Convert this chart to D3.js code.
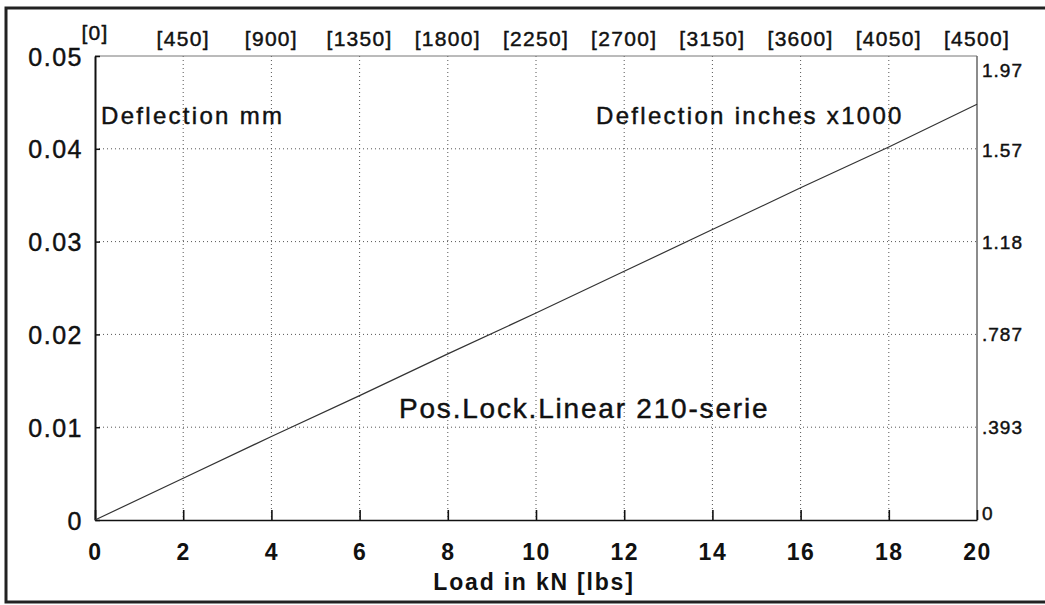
<!DOCTYPE html>
<html>
<head>
<meta charset="utf-8">
<script src="https://cdn.jsdelivr.net/npm/d3@7"></script>
<style>
  html, body { margin: 0; padding: 0; background: #fff; }
  svg { display: block; font-family: "Liberation Sans", Arial, sans-serif; }
  .ink { stroke: #111; stroke-width: 0.45px; }
</style>
</head>
<body>
<div id="chart"></div>
<script>
// ── Data ────────────────────────────────────────────────────────────────
const loadKN = [0, 2, 4, 6, 8, 10, 12, 14, 16, 18, 20];
const deflectionMm = [0, 0.0045, 0.009, 0.0134, 0.0179, 0.0223, 0.0268, 0.0313, 0.0358, 0.0402, 0.0448];

const xTicks = [0, 2, 4, 6, 8, 10, 12, 14, 16, 18, 20];
const lbsLabels = ["[0]", "[450]", "[900]", "[1350]", "[1800]", "[2250]", "[2700]", "[3150]", "[3600]", "[4050]", "[4500]"];
const yTicks = [0, 0.01, 0.02, 0.03, 0.04, 0.05];
const yTickLabels = ["0", "0.01", "0.02", "0.03", "0.04", "0.05"];
const inchValues = [0, 0.393, 0.787, 1.18, 1.57, 1.97];
const inchLabels = ["0", ".393", ".787", "1.18", "1.57", "1.97"];

function renderChart(selector) {
  const W = 1045, H = 605;
  const margin = { top: 56, right: 68, bottom: 85, left: 95 };
  const width = W - margin.left - margin.right;
  const height = H - margin.top - margin.bottom;

  const svg = d3.select(selector).append("svg")
    .attr("width", W)
    .attr("height", H);

  // ── Outer frame ────────────────────────────────────────────────────────
  svg.append("rect")
    .attr("x", 6).attr("y", 8)
    .attr("width", W).attr("height", 594)
    .attr("fill", "none")
    .attr("stroke", "#222")
    .attr("stroke-width", 3);

  const g = svg.append("g")
    .attr("transform", `translate(${margin.left},${margin.top})`);

  // ── Scales ─────────────────────────────────────────────────────────────
  const x = d3.scaleLinear().domain([0, 20]).range([0, width]);
  const y = d3.scaleLinear().domain([0, 0.05]).range([height, 0]);
  const yIn = d3.scaleLinear().domain([0, 1.97]).range([height, 0]);

  // ── Grid ───────────────────────────────────────────────────────────────
  g.append("g").selectAll("line")
    .data(xTicks.filter((d) => d > 0 && d < 20))
    .join("line")
    .attr("x1", (d) => x(d)).attr("x2", (d) => x(d))
    .attr("y1", 0).attr("y2", height)
    .attr("stroke", "#555")
    .attr("stroke-width", 1)
    .attr("stroke-dasharray", "1,3");

  g.append("g").selectAll("line")
    .data(yTicks.filter((d) => d > 0 && d < 0.05))
    .join("line")
    .attr("x1", 0).attr("x2", width)
    .attr("y1", (d) => y(d)).attr("y2", (d) => y(d))
    .attr("stroke", "#555")
    .attr("stroke-width", 1)
    .attr("stroke-dasharray", "1,3");

  // ── Plot frame ─────────────────────────────────────────────────────────
  g.append("line").attr("x1", 0).attr("x2", width).attr("y1", 0).attr("y2", 0)
    .attr("stroke", "#777").attr("stroke-width", 1);
  g.append("line").attr("x1", width).attr("x2", width).attr("y1", 0).attr("y2", height)
    .attr("stroke", "#666").attr("stroke-width", 1.5);

  // ── Bottom axis ────────────────────────────────────────────────────────
  const xAxis = g.append("g")
    .attr("transform", `translate(0,${height})`)
    .call(d3.axisBottom(x).tickValues(xTicks).tickSize(-10).tickSizeOuter(0).tickFormat(d3.format("d")));
  xAxis.select(".domain").attr("stroke", "#111").attr("stroke-width", 1.6);
  xAxis.selectAll(".tick line").attr("stroke", "#111").attr("stroke-width", 1.6);
  xAxis.selectAll(".tick text")
    .attr("y", 32).attr("dy", "0.35em")
    .attr("fill", "#111")
    .style("font-size", "23px")
    .style("font-weight", "700")
    .style("letter-spacing", "1.5px")
    .style("font-family", "'Liberation Sans', Arial, sans-serif");

  // ── Left axis ──────────────────────────────────────────────────────────
  const yAxis = g.append("g")
    .call(d3.axisLeft(y).tickValues(yTicks).tickSize(-5).tickSizeOuter(0)
      .tickFormat((d, i) => yTickLabels[i]));
  yAxis.select(".domain").attr("stroke", "#111").attr("stroke-width", 2);
  yAxis.selectAll(".tick line").attr("stroke", "#111").attr("stroke-width", 1.5);
  yAxis.selectAll(".tick text")
    .attr("class", "ink")
    .attr("x", -12).attr("dy", "0.36em")
    .attr("fill", "#111")
    .style("font-size", "25px")
    .style("letter-spacing", "1.5px")
    .style("font-family", "'Liberation Sans', Arial, sans-serif");

  // ── Right labels (inches x1000) ────────────────────────────────────────
  g.append("g").selectAll("text")
    .data(inchValues)
    .join("text")
    .attr("class", "ink")
    .attr("x", width + 5)
    .attr("y", (d) => Math.min(Math.max(yIn(d), 14), height - 7))
    .attr("dy", "0.35em")
    .attr("fill", "#111")
    .style("font-size", "19px")
    .style("letter-spacing", "1px")
    .text((d, i) => inchLabels[i]);

  // ── Top labels (lbs) ───────────────────────────────────────────────────
  svg.append("g").selectAll("text")
    .data(xTicks)
    .join("text")
    .attr("class", "ink")
    .attr("x", (d) => margin.left + x(d))
    .attr("y", (d, i) => (i === 0 ? 33 : 39))
    .attr("dy", "0.35em")
    .attr("text-anchor", "middle")
    .attr("fill", "#111")
    .style("font-size", "21px")
    .style("letter-spacing", "1.3px")
    .text((d, i) => lbsLabels[i]);

  // ── Deflection line ────────────────────────────────────────────────────
  const line = d3.line()
    .x((d, i) => x(loadKN[i]))
    .y((d) => y(d));

  g.append("path")
    .datum(deflectionMm)
    .attr("d", line)
    .attr("fill", "none")
    .attr("stroke", "#333")
    .attr("stroke-width", 1.2);

  // ── Annotations ────────────────────────────────────────────────────────
  svg.append("text")
    .attr("class", "ink")
    .attr("x", 101).attr("y", 124)
    .attr("fill", "#111")
    .style("font-size", "24px")
    .style("letter-spacing", "2.3px")
    .text("Deflection mm");

  svg.append("text")
    .attr("class", "ink")
    .attr("x", 596).attr("y", 124)
    .attr("fill", "#111")
    .style("font-size", "24px")
    .style("letter-spacing", "2.3px")
    .text("Deflection inches x1000");

  svg.append("text")
    .attr("class", "ink")
    .attr("x", 399).attr("y", 418)
    .attr("fill", "#111")
    .style("font-size", "28px")
    .style("letter-spacing", "1.8px")
    .text("Pos.Lock.Linear 210-serie");

  // ── Axis title ─────────────────────────────────────────────────────────
  svg.append("text")
    .attr("x", 534).attr("y", 590)
    .attr("text-anchor", "middle")
    .attr("fill", "#111")
    .style("font-size", "23px")
    .style("font-weight", "700")
    .style("letter-spacing", "1.8px")
    .text("Load in kN [lbs]");
}

renderChart("#chart");
</script>
</body>
</html>
